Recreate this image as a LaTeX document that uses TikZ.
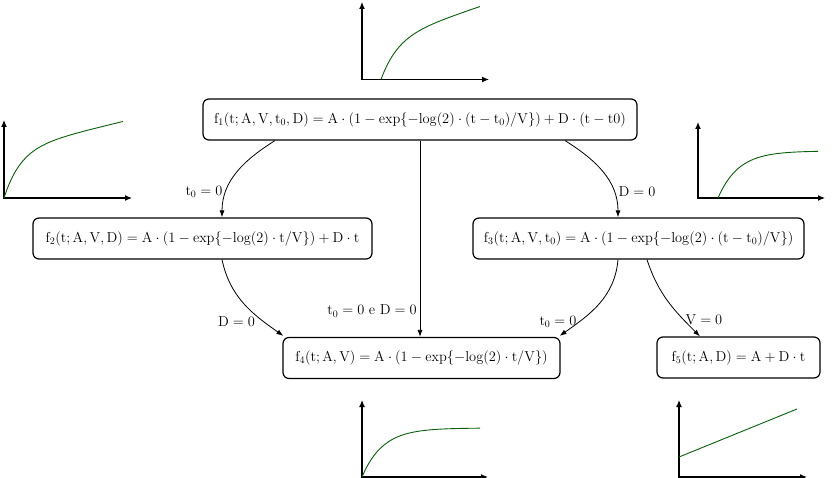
\documentclass[tikz,border=0pt]{standalone}
\usetikzlibrary{arrows.meta}
\definecolor{curvegreen}{RGB}{10,95,10}
\begin{document}
\begin{tikzpicture}[x=1pt,y=-1pt,
  font=\fontsize{14}{17}\selectfont,
  box/.style={draw, line width=1.2pt, rounded corners=6pt, minimum height=41pt, inner sep=0pt},
  conn/.style={line width=0.8pt, -{Latex[length=7pt,width=5pt]}},
  lbl/.style={inner sep=0pt},
  axis/.style={line width=1.2pt, {Latex[length=7pt,width=6pt]}-{Latex[length=7pt,width=6pt]}},
  curve/.style={line width=0.9pt, draw=curvegreen}]
\useasboundingbox (0,0) rectangle (832,478);

% boxes
\node[box, minimum width=434pt] (f1) at (420,119.5)
  {$\mathrm{f_1(t;A,V,t_0,D) = A\cdot(1-exp\{-log(2)\cdot(t-t_0)/V\})+D\cdot(t-t0)}$};
\node[box, minimum width=339pt] (f2) at (202.5,238.5)
  {$\mathrm{f_2(t;A,V,D) = A\cdot(1-exp\{-log(2)\cdot t/V\})+D\cdot t}$};
\node[box, minimum width=331pt] (f3) at (638.5,238.5)
  {$\mathrm{f_3(t;A,V,t_0) = A\cdot(1-exp\{-log(2)\cdot(t-t_0)/V\})}$};
\node[box, minimum width=277pt] (f4) at (421.5,358)
  {$\mathrm{f_4(t;A,V) = A\cdot(1-exp\{-log(2)\cdot t/V\})}$};
\node[box, minimum width=163pt] (f5) at (738.5,357.5)
  {$\mathrm{f_5(t;A,D) = A+D\cdot t}$};

% connectors
\draw[conn] ([xshift=-145pt]f1.south) to[out=-148,in=90] ([xshift=19.5pt]f2.north);
\draw[conn] ([xshift=145pt]f1.south) to[out=-32,in=90] ([xshift=-20.5pt]f3.north);
\draw[conn] (f1.south) -- (f4.north -| f1.south);
\draw[conn] ([xshift=19.5pt]f2.south) to[out=-78,in=145] ([xshift=1pt,yshift=1pt]f4.north west);
\draw[conn] ([xshift=-20.5pt]f3.south) to[out=-95,in=35] ([xshift=-1pt,yshift=1pt]f4.north east);
\draw[conn] ([xshift=8.5pt]f3.south) to[out=-72,in=135] ([xshift=-38.5pt]f5.north);

% labels
\node[lbl] (l1) at (204,192) {$\mathrm{t_0=0}$};
\node[lbl] (l2) at (637,192) {$\mathrm{D=0}$};
\node[lbl] (l3) at (372,311) {$\mathrm{t_0=0\ e\ D=0}$};
\node[lbl] (l4) at (236.5,322) {$\mathrm{D=0}$};
\node[lbl] (l5) at (558,322) {$\mathrm{t_0=0}$};
\node[lbl] (l6) at (704,320) {$\mathrm{V=0}$};

% chart top
\draw[axis] (362,2) |- (489,79.5);
\draw[curve] plot[domain=0:99,samples=80,smooth] ({381+\x},{79.5-(40*(1-exp(-0.06*\x))+0.334*\x)});
% chart left
\draw[axis] (4,120) |- (132,198);
\draw[curve] plot[domain=0:119,samples=80,smooth] ({4+\x},{198-(48*(1-exp(-0.06*\x))+0.24*\x)});
% chart right
\draw[axis] (698,122) |- (825,198);
\draw[curve] plot[domain=0:100,samples=80,smooth] ({718+\x},{198-(47*(1-exp(-0.049*\x)))});
% chart bottom middle
\draw[axis] (362,400) |- (488,477);
\draw[curve] plot[domain=0:118,samples=80,smooth] ({362+\x},{477-(49*(1-exp(-0.048*\x)))});
% chart bottom right
\draw[axis] (679,400) |- (807,477);
\draw[curve] (679,457) -- (797,409);
\end{tikzpicture}
\end{document}
